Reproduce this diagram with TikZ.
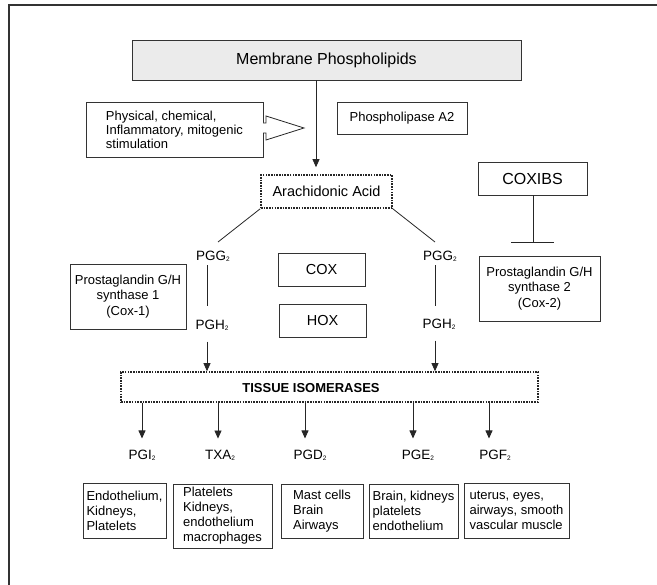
\documentclass[tikz,border=0pt]{standalone}
\usepackage{fontspec}
\setmainfont{Liberation Sans}
\usetikzlibrary{arrows.meta}
\newcommand\subtwo{\raisebox{-1.2pt}{\fontsize{6.5}{6.5}\selectfont 2}}
\begin{document}
\begin{tikzpicture}[x=1pt,y=-1pt,
  box/.style={draw=black!80, line width=0.9pt, inner sep=0pt, align=center, font=\fontsize{13}{15.5}\selectfont},
  lbox/.style={box, align=left, font=\fontsize{13}{15}\selectfont},
  dotbox/.style={draw=black!85, line width=1.6pt, dash pattern=on 1.6pt off 1.1pt, inner sep=0pt},
  lbl/.style={inner sep=0pt, font=\fontsize{13.5}{15}\selectfont},
  ln/.style={draw=black!85, line width=0.8pt},
  arr/.style={ln, -{Triangle[length=8pt,width=7pt]}},
]
\useasboundingbox (0,0) rectangle (657,585);
\draw[line width=1.4pt, black!80] (9,585) -- (9,5) -- (657,5);

% top part
\node[box, fill=black!8, minimum width=389pt, minimum height=40pt, font=\fontsize{16}{18}\selectfont] (memb) at (326.5,60) {Membrane Phospholipids};
\node[box, minimum width=177pt, minimum height=55pt, align=left, font=\fontsize{13}{14}\selectfont] (stim) at (174.5,129.5) {Physical, chemical,\\Inflammatory, mitogenic\\stimulation};
\node[box, minimum width=130pt, minimum height=32pt] (pla) at (402,118) {Phospholipase A2};
\node[dotbox, minimum width=131pt, minimum height=33pt, font=\fontsize{14.5}{16}\selectfont] (arach) at (326.5,191.5) {Arachidonic Acid};
\node[box, minimum width=109pt, minimum height=33pt, font=\fontsize{16}{18}\selectfont] (coxibs) at (532.5,178.5) {COXIBS};

% hollow block arrow
\draw[ln, fill=white] (263,123) -- (266,123) -- (266,116) -- (304,128) -- (266,140) -- (266,133) -- (263,133);

% arrow membrane -> arachidonic
\coordinate (ax) at (316,0);
\draw[arr, shorten >=7pt] (memb.south -| ax) -- (arach.north -| ax);

% middle part
\node[box, minimum width=121pt, minimum height=65pt] (pgs2) at (539.5,288.5) {Prostaglandin G/H\\synthase 2\\(Cox-2)};
\node[box, minimum width=116pt, minimum height=65pt] (pgs1) at (128,296.5) {Prostaglandin G/H\\synthase 1\\(Cox-1)};
\node[box, minimum width=87pt, minimum height=33pt, font=\fontsize{14.5}{16}\selectfont] (cox) at (321.5,269.5) {COX};
\node[box, minimum width=87pt, minimum height=33pt, font=\fontsize{14.5}{16}\selectfont] (hox) at (322.5,320.5) {HOX};
\node[lbl] (pggL) at (213,256) {PGG\subtwo};
\node[lbl] (pggR) at (440,256) {PGG\subtwo};
\node[lbl] (pghL) at (212,325) {PGH\subtwo};
\node[lbl] (pghR) at (439,324) {PGH\subtwo};

% inhibition
\coordinate (inh) at (533,242);
\coordinate (inhL) at (511,242);
\coordinate (inhR) at (554,242);
\draw[ln] (coxibs.south -| inh) -- (inh);
\draw[ln] (inhL) -- (inhR);

% diagonals
\coordinate (dL) at (218,242);
\coordinate (dR) at (435,242);
\draw[ln] (arach.south west) -- (dL);
\draw[ln] (arach.south east) -- (dR);

% verticals
\coordinate (cL) at (207,0);
\coordinate (cR) at (435,0);
\draw[ln, shorten <=3.5pt, shorten >=13pt] (pggL.south -| cL) -- (pghL.north -| cL);
\draw[ln, shorten <=3.5pt, shorten >=12pt] (pggR.south -| cR) -- (pghR.north -| cR);

% tissue isomerases
\node[dotbox, minimum width=417pt, minimum height=30pt] (tissue) at (329.5,387) {};
\node[inner sep=0pt, font=\bfseries\fontsize{13}{15}\selectfont] (tissueT) at (311,388) {TISSUE ISOMERASES};
\draw[arr, shorten <=11pt] (pghL.south -| cL) -- (tissue.north -| cL);
\draw[arr, shorten <=11pt] (pghR.south -| cR) -- (tissue.north -| cR);

% products
\node[lbl] (pgi) at (142,455) {PGI\subtwo};
\node[lbl] (txa) at (220,455) {TXA\subtwo};
\node[lbl] (pgd) at (310,455) {PGD\subtwo};
\node[lbl] (pge) at (418,455) {PGE\subtwo};
\node[lbl] (pgf) at (495,455) {PGF\subtwo};
\coordinate (a1) at (142,0);
\coordinate (a2) at (218,0);
\coordinate (a3) at (305,0);
\coordinate (a4) at (413,0);
\coordinate (a5) at (489,0);
\draw[arr, shorten >=11pt] (tissue.south -| a1) -- (pgi.north -| a1);
\draw[arr, shorten >=11pt] (tissue.south -| a2) -- (txa.north -| a2);
\draw[arr, shorten >=11pt] (tissue.south -| a3) -- (pgd.north -| a3);
\draw[arr, shorten >=11pt] (tissue.south -| a4) -- (pge.north -| a4);
\draw[arr, shorten >=11pt] (tissue.south -| a5) -- (pgf.north -| a5);

% bottom boxes
\node[lbox, minimum width=83pt, minimum height=55pt] (b1) at (124.5,510.5) {Endothelium,\\Kidneys,\\Platelets};
\node[lbox, minimum width=99pt, minimum height=64pt] (b2) at (222.5,516) {Platelets\\Kidneys,\\endothelium\\macrophages};
\node[lbox, minimum width=82pt, minimum height=54pt] (b3) at (322,511) {Mast cells\\Brain\\Airways};
\node[lbox, minimum width=89pt, minimum height=54pt] (b4) at (413.5,511) {Brain, kidneys\\platelets\\endothelium};
\node[lbox, minimum width=105pt, minimum height=55pt] (b5) at (516.5,510.5) {uterus, eyes,\\airways, smooth\\vascular muscle};
\end{tikzpicture}
\end{document}
